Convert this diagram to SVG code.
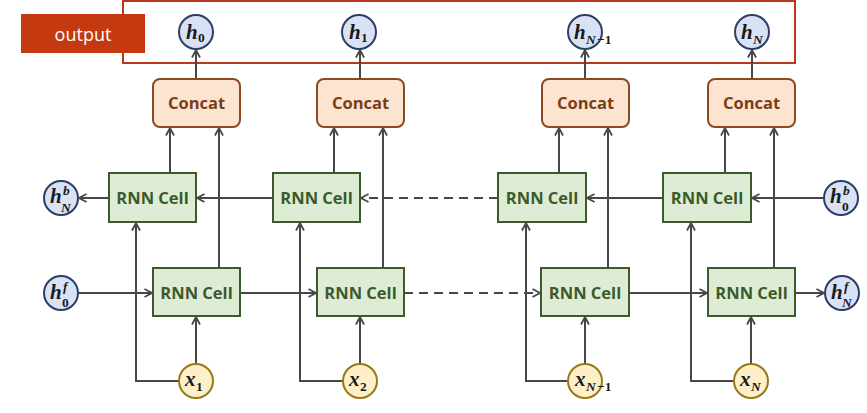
<svg xmlns="http://www.w3.org/2000/svg" width="867" height="413" viewBox="0 0 867 413">
<defs>
<style>
.cell{fill:#deecd5;stroke:#3d5a2e;stroke-width:2}
.cellt{font-family:"Open Sans","Noto Sans",sans-serif;font-weight:bold;font-size:16.5px;fill:#3b5a2a;text-anchor:middle}
.cat{fill:#fde4d1;stroke:#8c4a22;stroke-width:2}
.catt{font-family:"Open Sans","Noto Sans",sans-serif;font-weight:bold;font-size:16.5px;fill:#7a3e16;text-anchor:middle}
.hc{fill:#d8e2f4;stroke:#2d3d66;stroke-width:2}
.xc{fill:#fdf0c9;stroke:#9a7814;stroke-width:2}
.m{font-family:"Liberation Serif","DejaVu Serif",serif;font-weight:bold;font-style:italic;font-size:21px;fill:#1a1a1a}
.s{font-family:"Liberation Serif","DejaVu Serif",serif;font-weight:bold;font-style:italic;font-size:13.5px;fill:#1a1a1a}
.d{font-family:"Liberation Serif","DejaVu Serif",serif;font-weight:bold;font-size:13.5px;fill:#1a1a1a}
.ln{fill:none;stroke:#474747;stroke-width:2}
.arr{marker-end:url(#a)}
.dash{stroke-dasharray:9 6}
</style>
<marker id="a" viewBox="0 0 10 10" refX="9" refY="5" markerWidth="10" markerHeight="10" markerUnits="userSpaceOnUse" orient="auto">
<path d="M1.5,1 L9,5 L1.5,9" fill="none" stroke="#474747" stroke-width="1.8"/>
</marker>
</defs>
<rect width="867" height="413" fill="#ffffff"/>

<g id="output">
<rect x="123" y="1" width="672" height="62" fill="none" stroke="#b83a1e" stroke-width="2"/>
<rect x="21" y="14" width="124" height="39" fill="#c4390f"/>
<text x="83" y="41" font-family="Open Sans,Noto Sans,sans-serif" font-size="18" fill="#ffffff" text-anchor="middle">output</text>
</g>

<g id="connectors">
<path class="ln arr" d="M196,79 V50"/>
<path class="ln arr" d="M360,79 V50"/>
<path class="ln arr" d="M585,79 V50"/>
<path class="ln arr" d="M752,79 V50"/>
<path class="ln arr" d="M170,173 V128"/>
<path class="ln arr" d="M334,173 V128"/>
<path class="ln arr" d="M559,173 V128"/>
<path class="ln arr" d="M725,173 V128"/>
<path class="ln arr" d="M219,268 V128"/>
<path class="ln arr" d="M383,268 V128"/>
<path class="ln arr" d="M608,268 V128"/>
<path class="ln arr" d="M774,268 V128"/>
<path class="ln arr" d="M196,364 V317"/>
<path class="ln arr" d="M360,364 V317"/>
<path class="ln arr" d="M585,364 V317"/>
<path class="ln arr" d="M751,364 V317"/>
<path class="ln arr" d="M179,381 H136 V223"/>
<path class="ln arr" d="M343,381 H300 V223"/>
<path class="ln arr" d="M568,381 H526 V223"/>
<path class="ln arr" d="M734,381 H691 V223"/>
<path class="ln arr" d="M824,198 H752"/>
<path class="ln arr" d="M663,198 H587"/>
<path class="ln arr dash" d="M498,198 H361"/>
<path class="ln arr" d="M273,198 H197"/>
<path class="ln arr" d="M109,198 H79"/>
<path class="ln arr" d="M78,293 H152"/>
<path class="ln arr" d="M240,293 H316"/>
<path class="ln arr dash" d="M404,293 H540"/>
<path class="ln arr" d="M629,293 H707"/>
<path class="ln arr" d="M795,293 H824"/>
</g>

<g id="h0"><circle class="hc" cx="196" cy="32" r="17"/><text class="m" x="186" y="39">h</text><text class="d" x="198" y="42">0</text></g>
<g id="h1"><circle class="hc" cx="359" cy="32" r="17"/><text class="m" x="349" y="39">h</text><text class="d" x="361" y="42">1</text></g>
<g id="hN1"><circle class="hc" cx="585" cy="32" r="17"/><text class="m" x="574" y="39">h</text><text class="s" x="586" y="44">N</text><text class="d" x="597" y="44">−1</text></g>
<g id="hN"><circle class="hc" cx="752" cy="32" r="17"/><text class="m" x="741" y="39">h</text><text class="s" x="753" y="44">N</text></g>

<g id="concat1"><rect class="cat" x="153" y="79" width="87" height="48" rx="7"/><text class="catt" x="196.5" y="109">Concat</text></g>
<g id="concat2"><rect class="cat" x="317" y="79" width="87" height="48" rx="7"/><text class="catt" x="360.5" y="109">Concat</text></g>
<g id="concat3"><rect class="cat" x="542" y="79" width="87" height="48" rx="7"/><text class="catt" x="585.5" y="109">Concat</text></g>
<g id="concat4"><rect class="cat" x="708" y="79" width="87" height="48" rx="7"/><text class="catt" x="751.5" y="109">Concat</text></g>

<g id="bcell1"><rect class="cell" x="109" y="173" width="87" height="49"/><text class="cellt" x="152.5" y="204">RNN Cell</text></g>
<g id="bcell2"><rect class="cell" x="273" y="173" width="87" height="49"/><text class="cellt" x="316.5" y="204">RNN Cell</text></g>
<g id="bcell3"><rect class="cell" x="498" y="173" width="88" height="49"/><text class="cellt" x="542" y="204">RNN Cell</text></g>
<g id="bcell4"><rect class="cell" x="663" y="173" width="88" height="49"/><text class="cellt" x="707" y="204">RNN Cell</text></g>

<g id="fcell1"><rect class="cell" x="153" y="268" width="87" height="48"/><text class="cellt" x="196.5" y="299">RNN Cell</text></g>
<g id="fcell2"><rect class="cell" x="317" y="268" width="87" height="48"/><text class="cellt" x="360.5" y="299">RNN Cell</text></g>
<g id="fcell3"><rect class="cell" x="541" y="268" width="88" height="48"/><text class="cellt" x="585" y="299">RNN Cell</text></g>
<g id="fcell4"><rect class="cell" x="708" y="268" width="87" height="48"/><text class="cellt" x="751.5" y="299">RNN Cell</text></g>

<g id="hNb"><circle class="hc" cx="61" cy="198" r="17"/><text class="m" x="50" y="203">h</text><text class="s" x="63" y="195">b</text><text class="s" x="61" y="212">N</text></g>
<g id="h0b"><circle class="hc" cx="841" cy="198" r="17"/><text class="m" x="830" y="203">h</text><text class="s" x="843" y="195">b</text><text class="d" x="842" y="211">0</text></g>
<g id="h0f"><circle class="hc" cx="61" cy="293" r="17"/><text class="m" x="50" y="299">h</text><text class="s" x="63" y="291">f</text><text class="d" x="62" y="307">0</text></g>
<g id="hNf"><circle class="hc" cx="842" cy="293" r="17"/><text class="m" x="831" y="299">h</text><text class="s" x="844" y="291">f</text><text class="s" x="842" y="307">N</text></g>

<g id="x1"><circle class="xc" cx="196" cy="381" r="17"/><text class="m" x="185" y="386">x</text><text class="d" x="196" y="391">1</text></g>
<g id="x2"><circle class="xc" cx="360" cy="381" r="17"/><text class="m" x="349" y="386">x</text><text class="d" x="360" y="391">2</text></g>
<g id="xN1"><circle class="xc" cx="585" cy="381" r="17"/><text class="m" x="575" y="386">x</text><text class="s" x="586" y="391">N</text><text class="d" x="597" y="391">−1</text></g>
<g id="xN"><circle class="xc" cx="751" cy="381" r="17"/><text class="m" x="740" y="386">x</text><text class="s" x="751" y="391">N</text></g>
</svg>
